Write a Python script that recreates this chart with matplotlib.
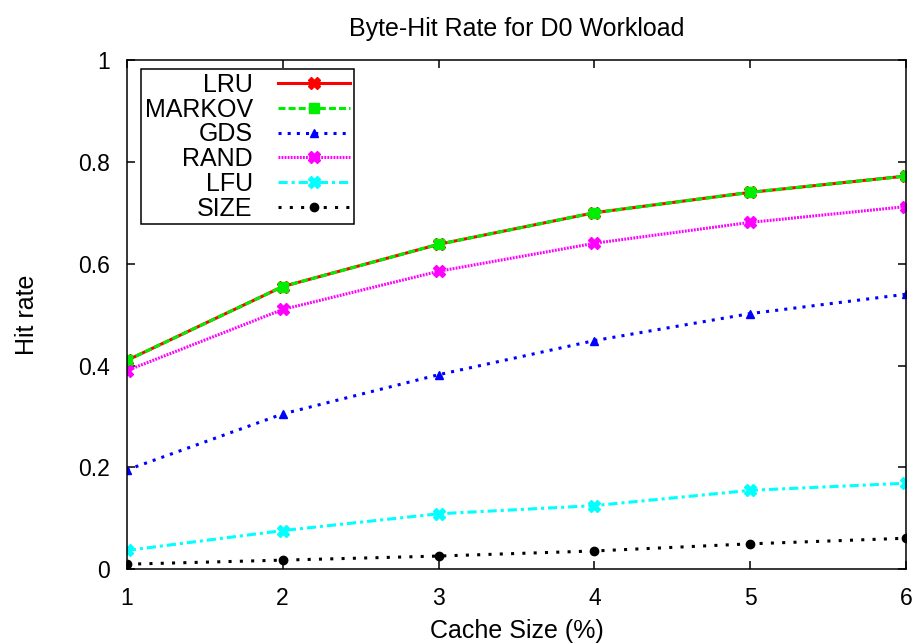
import matplotlib
matplotlib.use("Agg")
import matplotlib.pyplot as plt

plt.rcParams["font.family"] = ["Liberation Sans", "DejaVu Sans"]

cache_size = [1, 2, 3, 4, 5, 6]
lru = [0.41, 0.555, 0.638, 0.70, 0.740, 0.772]
markov = [0.41, 0.555, 0.638, 0.70, 0.740, 0.772]
gds = [0.195, 0.305, 0.382, 0.449, 0.502, 0.540]
rand = [0.39, 0.510, 0.585, 0.640, 0.681, 0.712]
lfu = [0.037, 0.076, 0.109, 0.125, 0.155, 0.169]
size = [0.010, 0.018, 0.026, 0.036, 0.050, 0.061]

fig = plt.figure(figsize=(9.19, 6.44), dpi=100)
ax = fig.add_axes([0.138, 0.116, 0.848, 0.791])

lw = 2.2
ax.plot(cache_size, lru, color="red", lw=lw, marker="X", ms=8, label="LRU")
ax.plot(cache_size, markov, color="#00ee00", lw=lw, dashes=(2.3, 1.0),
        marker="s", ms=6.5, label="MARKOV")
ax.plot(cache_size, gds, color="blue", lw=lw, dashes=(1, 2),
        marker="^", ms=6, label="GDS")
ax.plot(cache_size, rand, color="magenta", lw=lw, dashes=(0.6, 0.4),
        marker="X", ms=8, label="RAND")
ax.plot(cache_size, lfu, color="cyan", lw=lw, dashes=(3, 1.3, 1, 1.3),
        marker="X", ms=8, label="LFU")
ax.plot(cache_size, size, color="black", lw=lw, dashes=(1, 2.7),
        marker="o", ms=6, label="SIZE")

ax.set_xlim(1, 6)
ax.set_ylim(0, 1)
ax.set_xticks(cache_size)
ax.set_yticks([0, 0.2, 0.4, 0.6, 0.8, 1])
ax.set_yticklabels(["0", "0.2", "0.4", "0.6", "0.8", "1"])
ax.tick_params(direction="in", length=6, width=1.1, labelsize=16.5,
               top=True, right=True)
ax.tick_params(axis="y", pad=12)
ax.tick_params(axis="x", pad=13)
for s in ax.spines.values():
    s.set_linewidth(1.1)

ax.set_title("Byte-Hit Rate for D0 Workload", fontsize=18, pad=17)
ax.set_xlabel("Cache Size (%)", fontsize=18, labelpad=6)
ax.set_ylabel("Hit rate", fontsize=18, labelpad=28)

leg = ax.legend(loc="upper left", bbox_to_anchor=(0.018, 0.982),
                borderaxespad=0, markerfirst=False, fontsize=18,
                handlelength=2.9, labelspacing=0.03,
                fancybox=False, framealpha=1, edgecolor="black",
                borderpad=0.15, handletextpad=1.0)
leg.get_frame().set_linewidth(1.1)

fig.savefig("out.png", dpi=100)
